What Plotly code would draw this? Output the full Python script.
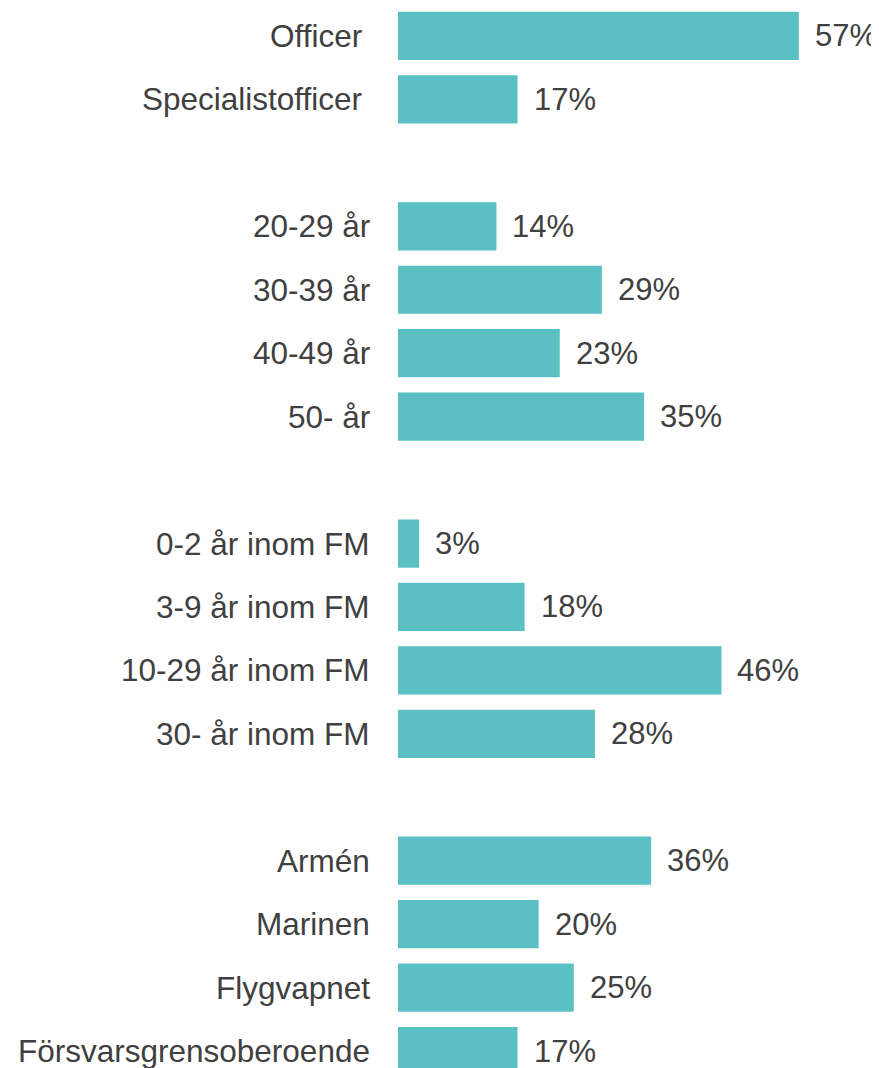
import plotly.graph_objects as go

categories = ["Officer", "Specialistofficer", " ",
              "20-29 år", "30-39 år", "40-49 år", "50- år", "  ",
              "0-2 år inom FM", "3-9 år inom FM", "10-29 år inom FM", "30- år inom FM", "   ",
              "Armén", "Marinen", "Flygvapnet", "Försvarsgrensoberoende"]
values = [57, 17, None,
          14, 29, 23, 35, None,
          3, 18, 46, 28, None,
          36, 20, 25, 17]
label_group = [0, 0, None, 1, 1, 1, 1, None, 1, 1, 1, 1, None, 1, 1, 1, 1]

BAR = "#5BC0C4"
TXT = "#404040"
FONT = "Liberation Sans, Arial, sans-serif"

fig = go.Figure(go.Bar(
    y=categories, x=values, orientation="h",
    marker=dict(color=BAR, line=dict(width=0)),
    hoverinfo="skip",
))

ann = []
for c, v, g in zip(categories, values, label_group):
    if v is None:
        continue
    ann.append(dict(x=0, y=c, xref="x", yref="y", text=c, showarrow=False,
                    xanchor="right", yanchor="middle",
                    xshift=-34 if g == 0 else -26,
                    font=dict(family=FONT, size=31.5, color=TXT)))
    ann.append(dict(x=v, y=c, xref="x", yref="y", text=f"{v}%", showarrow=False,
                    xanchor="left", yanchor="middle", xshift=14,
                    font=dict(family=FONT, size=31, color=TXT)))

fig.update_layout(
    width=871, height=1060,
    margin=dict(l=390, r=0, t=0, b=0),
    paper_bgcolor="white", plot_bgcolor="white",
    bargap=0.24,
    showlegend=False,
    annotations=ann,
    xaxis=dict(range=[0, 68.4], visible=False, fixedrange=True),
    yaxis=dict(type="category", categoryorder="array", categoryarray=categories,
               range=[16.267, -0.441], showticklabels=False, showgrid=False,
               zeroline=False, showline=False, ticks=""),
)

fig.write_html("out.html")
